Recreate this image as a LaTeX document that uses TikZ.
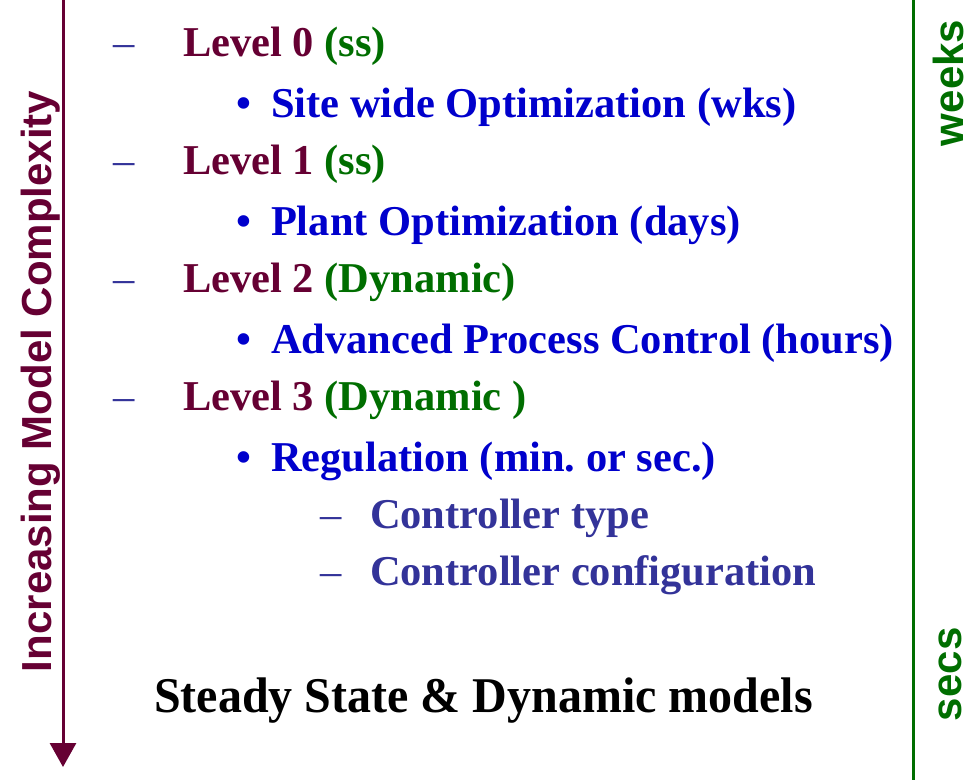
\documentclass[tikz,border=0pt]{standalone}
\usepackage{fontspec}
\setmainfont{Liberation Serif}
\newfontfamily\arialbf{Liberation Sans}
\usetikzlibrary{arrows.meta}
\frenchspacing

\definecolor{maroon}{HTML}{660033}
\definecolor{leafgreen}{RGB}{0,110,0}
\definecolor{itemblue}{HTML}{0000CC}
\definecolor{subblue}{HTML}{333399}

\tikzset{
  txt/.style={anchor=base west, inner sep=0pt, outer sep=0pt,
              font=\fontsize{42.5}{42.5}\selectfont\bfseries},
  leveltxt/.style={txt, text=maroon},
  dashtxt/.style={anchor=base west, inner sep=0pt, outer sep=0pt,
              font=\fontsize{42.5}{42.5}\selectfont, text=subblue},
  bullettxt/.style={txt, text=itemblue},
  subtxt/.style={txt, text=subblue},
  sidetxt/.style={anchor=base west, inner sep=0pt, outer sep=0pt, rotate=90,
              font=\fontsize{42}{42}\selectfont\arialbf\bfseries},
}

\begin{document}
\begin{tikzpicture}[x=1pt,y=-1pt]
\useasboundingbox (0,0) rectangle (979,780);

% complexity axis on the left
\coordinate (axtop) at (63,-2);
\coordinate (axtip) at (63,767);
\draw[maroon, line width=3pt, -{Triangle[width=26pt,length=24pt]}] (axtop) -- (axtip);
\node[sidetxt, text=maroon] (axlabel) at (51,672) {Increasing Model Complexity};

% time-scale line on the right
\coordinate (tstop) at (913,0);
\coordinate (tsbot) at (913,780);
\draw[leafgreen, line width=3pt] (tstop) -- (tsbot);
\node[sidetxt, text=leafgreen] (weeks) at (963,146) {weeks};
\node[sidetxt, text=leafgreen] (secs) at (961,721) {secs};

% level 0
\node[dashtxt] (d0) at (113,56) {–};
\node[leveltxt] (l0) at (183,56) {Level 0 \textcolor{leafgreen}{(ss)}};
\node[bullettxt] (b0) at (236,117) {•};
\node[bullettxt] (t0) at (271,117) {Site wide Optimization (wks)};

% level 1
\node[dashtxt] (d1) at (113,174) {–};
\node[leveltxt] (l1) at (183,174) {Level 1 \textcolor{leafgreen}{(ss)}};
\node[bullettxt] (b1) at (236,235) {•};
\node[bullettxt] (t1) at (271,235) {Plant Optimization (days)};

% level 2
\node[dashtxt] (d2) at (113,292) {–};
\node[leveltxt] (l2) at (183,292) {Level 2 \textcolor{leafgreen}{(Dynamic)}};
\node[bullettxt] (b2) at (236,353) {•};
\node[bullettxt] (t2) at (271,353) {Advanced Process Control (hours)};

% level 3
\node[dashtxt] (d3) at (113,410) {–};
\node[leveltxt] (l3) at (183,410) {Level 3 \textcolor{leafgreen}{(Dynamic )}};
\node[bullettxt] (b3) at (236,471) {•};
\node[bullettxt] (t3) at (271,471) {Regulation (min. or sec.)};
\node[dashtxt] (s1d) at (320,528) {–};
\node[subtxt] (s1) at (370,528) {Controller type};
\node[dashtxt] (s2d) at (320,585) {–};
\node[subtxt] (s2) at (370,585) {Controller configuration};

% summary line
\node[anchor=base west, inner sep=0pt, xscale=0.96,
      font=\fontsize{50}{50}\selectfont\bfseries] (summary) at (154,712)
      {Steady State \& Dynamic models};
\end{tikzpicture}
\end{document}
